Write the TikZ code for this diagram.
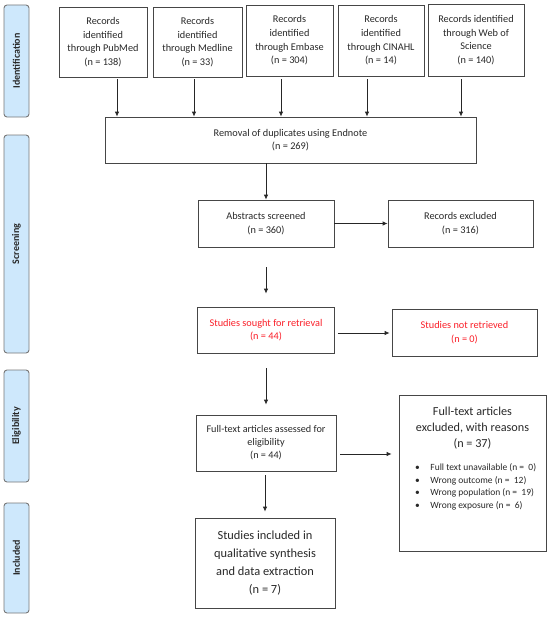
\documentclass[tikz,border=0pt]{standalone}
\usepackage{fontspec}
\setmainfont{Carlito}
\usetikzlibrary{arrows.meta}
\definecolor{bandfill}{RGB}{206,232,252}
\definecolor{bandline}{RGB}{120,120,120}
\definecolor{boxline}{RGB}{70,70,70}
\definecolor{txt}{RGB}{40,40,40}
\definecolor{redtxt}{RGB}{250,30,40}
\tikzset{
  band/.style={draw=bandline, fill=bandfill, rounded corners=3pt, line width=0.9pt,
    minimum width=25pt, inner sep=0pt},
  bandlabel/.style={rotate=90, font=\fontsize{10}{12}\selectfont\bfseries, text=txt},
  box/.style={draw=boxline, line width=0.8pt, align=center, inner sep=0pt, text=txt,
    font=\fontsize{10.3}{13.7}\selectfont},
  arr/.style={draw=black!85, line width=0.8pt, -{Latex[length=5pt,width=4.5pt]}},
}
\begin{document}
\begin{tikzpicture}[x=1pt,y=-1pt]
\useasboundingbox (0,0) rectangle (550,618);
% bands
\node[band, minimum height=112pt] (b1) at (16.5,61) {};
\node[bandlabel] (l1) at (b1) {Identification};
\node[band, minimum height=218pt] (b2) at (16.5,244) {};
\node[bandlabel] (l2) at (b2) {Screening};
\node[band, minimum height=112pt] (b3) at (16.5,426) {};
\node[bandlabel] (l3) at (b3) {Eligibility};
\node[band, minimum height=110pt] (b4) at (16.5,558) {};
\node[bandlabel] (l4) at (b4) {Included};
% top boxes
\node[box, minimum width=88pt, minimum height=70pt] (pub) at (103,42) {Records\\identified\\through PubMed\\(n = 138)};
\node[box, minimum width=89pt, minimum height=70pt] (med) at (197.5,42) {Records\\identified\\through Medline\\(n = 33)};
\node[box, minimum width=87pt, minimum height=71pt] (emb) at (289.5,40.5) {Records\\identified\\through Embase\\(n = 304)};
\node[box, minimum width=86pt, minimum height=71pt] (cin) at (381,40.5) {Records\\identified\\through CINAHL\\(n = 14)};
\node[box, minimum width=96pt, minimum height=72pt] (wos) at (476,40) {Records identified\\through Web of\\Science\\(n = 140)};
% removal
\node[box, minimum width=371pt, minimum height=46pt] (rem) at (290.5,140) {Removal of duplicates using Endnote\\(n = 269)};
\draw[arr, shorten <=2pt] ([xshift=14pt]pub.south) -- ([xshift=14pt]pub.south |- rem.north);
\draw[arr, shorten <=2pt] ([xshift=-3.5pt]med.south) -- ([xshift=-3.5pt]med.south |- rem.north);
\draw[arr, shorten <=3pt] ([xshift=-8.5pt]emb.south) -- ([xshift=-8.5pt]emb.south |- rem.north);
\draw[arr, shorten <=3pt] ([xshift=-14pt]cin.south) -- ([xshift=-14pt]cin.south |- rem.north);
\draw[arr, shorten <=3pt] ([xshift=-15pt]wos.south) -- ([xshift=-15pt]wos.south |- rem.north);
% screening
\node[box, minimum width=136pt, minimum height=47pt] (abs) at (266,223.5) {Abstracts screened\\(n = 360)};
\node[box, minimum width=145pt, minimum height=47pt] (rex) at (460.5,223.5) {Records excluded\\(n = 316)};
\draw[arr] (rem.south -| abs.north) -- (abs.north);
\draw[arr] (abs.east) -- (rex.west);
\node[box, text=redtxt, minimum width=137pt, minimum height=46pt] (sou) at (266,330) {Studies sought for retrieval\\(n = 44)};
\node[box, text=redtxt, minimum width=145pt, minimum height=47pt] (nre) at (464.5,332.5) {Studies not retrieved\\(n = 0)};
\draw[arr, shorten <=20pt, shorten >=13pt] (abs.south) -- (sou.north);
\coordinate (y333) at (0,333);
\draw[arr, shorten <=3pt, shorten >=2pt] (sou.east |- y333) -- (nre.west |- y333);
% eligibility
\node[box, minimum width=140pt, minimum height=56pt, font=\fontsize{10.2}{13}\selectfont] (ft) at (266,443) {Full-text articles assessed for\\eligibility\\(n = 44)};
\draw[arr, shorten <=15pt, shorten >=10pt] (sou.south) -- (sou.south |- ft.north);
\node[box, minimum width=147pt, minimum height=156pt] (exc) at (472.5,473) {};
\node[align=center, text=txt, font=\fontsize{12.2}{16}\selectfont, inner sep=0pt] (exct) at (472.5,428) {Full-text articles\\excluded, with reasons\\(n = 37)};
\node[anchor=west, text=txt, font=\fontsize{9.5}{12.6}\selectfont, inner sep=0pt] (excl) at (415,487) {%
\begin{tabular}{@{}l@{\hspace{10.5pt}}l@{}}
\textbullet & Full text unavailable (n =\ \ 0)\\
\textbullet & Wrong outcome (n =\ \ 12)\\
\textbullet & Wrong population (n =\ \ 19)\\
\textbullet & Wrong exposure (n =\ \ 6)
\end{tabular}};
\coordinate (y454) at (0,454);
\draw[arr, shorten <=4pt, shorten >=7pt] (ft.east |- y454) -- (exc.west |- y454);
% included
\node[box, minimum width=140pt, minimum height=90pt, font=\fontsize{12.4}{18}\selectfont] (inc) at (265,563) {Studies included in\\qualitative synthesis\\and data extraction\\(n = 7)};
\draw[arr, shorten <=4pt, shorten >=6pt] (inc.north |- ft.south) -- (inc.north);
\end{tikzpicture}
\end{document}
